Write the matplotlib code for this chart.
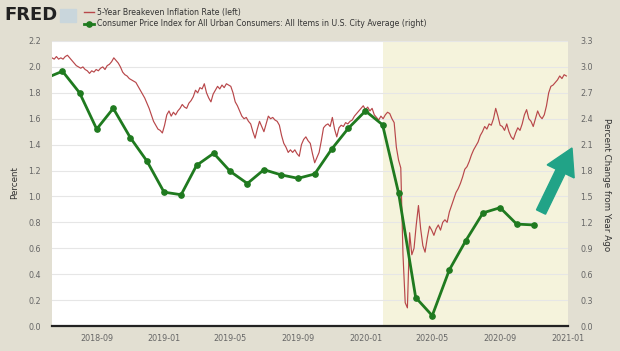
import matplotlib
matplotlib.use("Agg")
import matplotlib.pyplot as plt
import numpy as np
import pandas as pd
from matplotlib.patches import FancyArrow, Rectangle

# ---------------- data ----------------
# 5-Year Breakeven Inflation Rate (left axis), sampled every 4 days from 2018-06-12
breakeven_start = "2018-06-12"
breakeven = [
    2.07, 2.06, 2.08, 2.06, 2.07, 2.06, 2.08, 2.09, 2.07, 2.05,
    2.03, 2.01, 2.00, 1.99, 2.00, 1.98, 1.97, 1.95, 1.97, 1.96,
    1.98, 1.97, 1.99, 2.00, 1.98, 2.01, 2.02, 2.04, 2.07, 2.05,
    2.03, 2.00, 1.96, 1.94, 1.93, 1.91, 1.90, 1.89, 1.88, 1.85,
    1.82, 1.79, 1.76, 1.72, 1.68, 1.63, 1.58, 1.55, 1.52, 1.51,
    1.49, 1.55, 1.63, 1.66, 1.62, 1.65, 1.63, 1.66, 1.68, 1.71,
    1.69, 1.68, 1.72, 1.74, 1.77, 1.82, 1.80, 1.84, 1.83, 1.87,
    1.80, 1.76, 1.73, 1.79, 1.82, 1.85, 1.83, 1.86, 1.84, 1.87,
    1.86, 1.85, 1.80, 1.73, 1.70, 1.66, 1.62, 1.60, 1.61, 1.58,
    1.56, 1.50, 1.45, 1.52, 1.58, 1.54, 1.50, 1.56, 1.62, 1.60,
    1.61, 1.59, 1.58, 1.55, 1.47, 1.41, 1.38, 1.34, 1.36, 1.34,
    1.36, 1.33, 1.31, 1.40, 1.44, 1.46, 1.43, 1.41, 1.33, 1.26,
    1.30, 1.34, 1.43, 1.53, 1.55, 1.56, 1.54, 1.61, 1.52, 1.46,
    1.53, 1.55, 1.54, 1.57, 1.56, 1.58, 1.59, 1.62, 1.64, 1.66,
    1.68, 1.70, 1.67, 1.69, 1.66, 1.68, 1.63, 1.61, 1.59, 1.62,
    1.60, 1.63, 1.65, 1.64, 1.60, 1.57, 1.38, 1.28, 1.22, 0.55,
    0.18, 0.14, 0.72, 0.55, 0.60, 0.78, 0.93, 0.75, 0.62, 0.57,
    0.68, 0.77, 0.74, 0.70, 0.75, 0.78, 0.74, 0.80, 0.82, 0.80,
    0.88, 0.93, 0.98, 1.03, 1.06, 1.10, 1.15, 1.21, 1.23, 1.27,
    1.32, 1.36, 1.39, 1.42, 1.47, 1.50, 1.54, 1.52, 1.56, 1.55,
    1.60, 1.68, 1.62, 1.55, 1.54, 1.51, 1.56, 1.50, 1.46, 1.44,
    1.49, 1.53, 1.51, 1.56, 1.63, 1.67, 1.60, 1.58, 1.54, 1.60,
    1.66, 1.62, 1.60, 1.63, 1.70, 1.80, 1.85, 1.86, 1.88, 1.90,
    1.93, 1.91, 1.94, 1.93,
]

# CPI-U percent change from year ago (right axis), monthly from 2018-06
cpi_start = "2018-06-01"
cpi = [2.87, 2.95, 2.70, 2.28, 2.52, 2.18, 1.91, 1.55, 1.52, 1.86,
       2.00, 1.79, 1.65, 1.81, 1.75, 1.71, 1.76, 2.05, 2.29, 2.49,
       2.33, 1.54, 0.33, 0.12, 0.65, 0.99, 1.31, 1.37, 1.18, 1.17]

recession_start = "2020-02-01"
x_ticks = ["2018-09", "2019-01", "2019-05", "2019-09", "2020-01",
           "2020-05", "2020-09", "2021-01"]
left_ticks = [0.0, 0.2, 0.4, 0.6, 0.8, 1.0, 1.2, 1.4, 1.6, 1.8, 2.0, 2.2]
right_ticks = [0.0, 0.3, 0.6, 0.9, 1.2, 1.5, 1.8, 2.1, 2.4, 2.7, 3.0, 3.3]

legend_left = "5-Year Breakeven Inflation Rate (left)"
legend_right = "Consumer Price Index for All Urban Consumers: All Items in U.S. City Average (right)"

# ---------------- figure ----------------
BG = "#e2dfd2"
RED = "#b8474a"
GREEN = "#1f7a1f"
W, H = 620, 351
fig = plt.figure(figsize=(W / 100, H / 100), dpi=100, facecolor=BG)
ax = fig.add_axes([52 / W, 1 - 326 / H, (568 - 52) / W, (326 - 41) / H])
ax.set_facecolor("white")

be_dates = pd.date_range(breakeven_start, periods=len(breakeven), freq="4D")
cpi_dates = pd.date_range(cpi_start, periods=len(cpi), freq="MS")

xmin, xmax = pd.Timestamp("2018-06-12"), pd.Timestamp("2021-01-02")
ax.axvspan(pd.Timestamp(recession_start), xmax, color="#f5f3dc", zorder=0, lw=0)

for t in left_ticks:
    ax.axhline(t, color="#e6e6e6", lw=0.8, zorder=0.5)

ax.plot(be_dates, breakeven, color=RED, lw=0.85, zorder=2)
ax.set_xlim(xmin, xmax)
ax.set_ylim(0, 2.2)

ax2 = ax.twinx()
ax2.plot(cpi_dates, cpi, color=GREEN, lw=2.0, marker="o", ms=3.8, zorder=3)
ax2.set_ylim(0, 3.3)
ax2.set_xlim(xmin, xmax)

tick_color = "#666666"
ax.set_yticks(left_ticks)
ax.set_yticklabels([f"{t:.1f}" for t in left_ticks], fontsize=5.8, color=tick_color)
ax2.set_yticks(right_ticks)
ax2.set_yticklabels([f"{t:.1f}" for t in right_ticks], fontsize=5.8, color=tick_color)
ax.set_xticks([pd.Timestamp(t + "-01") for t in x_ticks])
ax.set_xticklabels(x_ticks, fontsize=5.8, color=tick_color)
ax.tick_params(axis="y", length=0, pad=8)
ax.tick_params(axis="x", length=0, pad=6)
ax2.tick_params(axis="y", length=0, pad=9)

for a in (ax, ax2):
    for side in ("top", "left", "right", "bottom"):
        a.spines[side].set_visible(False)
ax.axhline(0, color="#222222", lw=1.6, zorder=4, clip_on=False)

fig.text(15 / W, 1 - 183 / H, "Percent", rotation=90, fontsize=6.3,
         color="#333333", ha="center", va="center")
fig.text(607 / W, 1 - 185 / H, "Percent Change from Year Ago", rotation=270,
         fontsize=6.3, color="#333333", ha="center", va="center")

# FRED logo and legend
fig.text(4 / W, 1 - 15 / H, "FRED", fontsize=13, fontweight="bold",
         color="#222222", ha="left", va="center", family="DejaVu Sans")
fig.patches.append(Rectangle((60 / W, 1 - 22 / H), 16 / W, 13 / H,
                             transform=fig.transFigure, color="#c9d6dc", zorder=1))
fig.lines.append(plt.Line2D([84 / W, 94 / W], [1 - 12 / H, 1 - 12 / H],
                            transform=fig.transFigure, color=RED, lw=1.0))
fig.lines.append(plt.Line2D([84 / W, 94 / W], [1 - 24 / H, 1 - 24 / H],
                            transform=fig.transFigure, color=GREEN, lw=2.0))
fig.lines.append(plt.Line2D([89 / W], [1 - 24 / H], transform=fig.transFigure,
                            color=GREEN, marker="o", ms=3.8, lw=0))
fig.text(97 / W, 1 - 12 / H, legend_left, fontsize=5.6, color="#333333",
         ha="left", va="center")
fig.text(97 / W, 1 - 24 / H, legend_right, fontsize=5.6, color="#333333",
         ha="left", va="center")

# teal arrow (annotation)
arrow = FancyArrow(541 / 100, (H - 212) / 100, 31 / 100, 64 / 100, width=0.10,
                   head_width=0.30, head_length=0.26, length_includes_head=True,
                   transform=fig.dpi_scale_trans, color="#21a387", zorder=10)
fig.patches.append(arrow)

fig.savefig("out.png", dpi=100, facecolor=BG)
